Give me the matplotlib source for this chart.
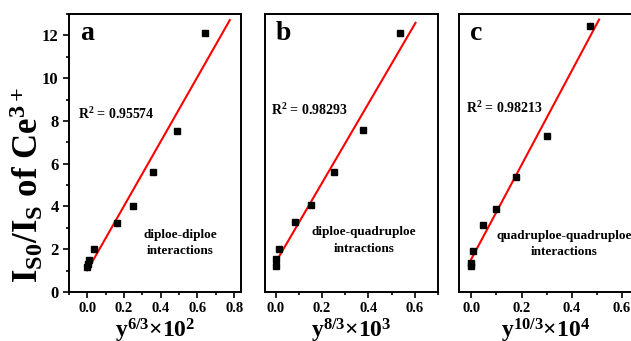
import matplotlib
matplotlib.use('Agg')
import matplotlib.pyplot as plt
import numpy as np
from matplotlib.ticker import MultipleLocator

plt.rcParams['font.family'] = ['Liberation Serif', 'DejaVu Serif']
plt.rcParams['font.weight'] = 'bold'
plt.rcParams['axes.labelweight'] = 'bold'
plt.rcParams['mathtext.fontset'] = 'custom'
plt.rcParams['mathtext.rm'] = 'Liberation Serif:bold'
plt.rcParams['mathtext.it'] = 'Liberation Serif:bold'
plt.rcParams['mathtext.bf'] = 'Liberation Serif:bold'

# quenching ratio I_S0/I_S versus concentration terms
x_a = [0.0, 0.003, 0.01, 0.036, 0.16, 0.25, 0.36, 0.49, 0.64]
y_a = [1.18, 1.3, 1.49, 2.02, 3.25, 4.02, 5.6, 7.55, 12.1]
x_b = [0.0, 0.0, 0.013, 0.085, 0.153, 0.25, 0.376, 0.537]
y_b = [1.21, 1.52, 2.02, 3.27, 4.05, 5.6, 7.59, 12.1]
x_c = [0.0, 0.0, 0.005, 0.048, 0.099, 0.18, 0.303, 0.471]
y_c = [1.2, 1.37, 1.93, 3.14, 3.88, 5.4, 7.29, 12.44]

letters = ['a', 'b', 'c']
r2_labels = ['R$^2$ = 0.95574', 'R$^2$ = 0.98293', 'R$^2$ = 0.98213']
mech_labels = ['diploe-diploe\ninteractions',
               'diploe-quadruploe\nintractions',
               'quadruploe-quadruploe\ninteractions']
xlabels = [r'y$^{6/3}$×10$^2$', r'y$^{8/3}$×10$^3$', r'y$^{10/3}$×10$^4$']
xlims = [(-0.1, 0.837), (-0.046, 0.70), (-0.049, 0.64)]
xticks = [[0, 0.2, 0.4, 0.6, 0.8], [0, 0.2, 0.4, 0.6], [0, 0.2, 0.4, 0.6]]
fit_ends = [0.776, 0.603, 0.509]
lefts = [69, 265, 459]
widths = [172, 173, 173]
r2_pos = [(0.052, 0.64), (0.033, 0.656), (0.039, 0.66)]
mech_pos = [(0.645, 0.176), (0.572, 0.185), (0.61, 0.172)]

xs = [x_a, x_b, x_c]
ys = [y_a, y_b, y_c]

W, H = 631, 341
fig = plt.figure(figsize=(W / 100, H / 100), dpi=100)

for i in range(3):
    ax = fig.add_axes([lefts[i] / W, (H - 292) / H, widths[i] / W, 278 / H])
    x = np.array(xs[i])
    y = np.array(ys[i])
    ax.plot(x, y, 's', color='black', markersize=4.3, zorder=3)
    k, b = np.polyfit(x, y, 1)
    xf = np.array([0.0, fit_ends[i]])
    ax.plot(xf, k * xf + b, color='red', lw=1.5, zorder=2)

    ax.set_xlim(*xlims[i])
    ax.set_ylim(0, 13)
    ax.xaxis.set_minor_locator(MultipleLocator(0.1))
    ax.yaxis.set_major_locator(MultipleLocator(2))
    ax.yaxis.set_minor_locator(MultipleLocator(1))
    ax.tick_params(which='both', direction='out', width=1.2,
                   top=False, right=False)
    ax.tick_params(axis='x', labelsize=10.5)
    ax.tick_params(axis='y', labelsize=12)
    ax.tick_params(which='major', length=4)
    ax.tick_params(which='minor', length=2.5)
    for s in ax.spines.values():
        s.set_linewidth(1.4)
    ax.set_xticks(xticks[i])
    ax.set_xticklabels(['%.1f' % v for v in xticks[i]])
    if i > 0:
        ax.tick_params(axis='y', which='both', left=False, labelleft=False)

    ax.set_xlabel(xlabels[i], fontsize=17, labelpad=1)
    ax.text(0.064, 0.93, letters[i], transform=ax.transAxes, fontsize=20,
            fontweight='bold', va='center', ha='left')
    ax.text(*r2_pos[i], r2_labels[i], transform=ax.transAxes, fontsize=10,
            va='center', ha='left')
    ax.text(*mech_pos[i], mech_labels[i], transform=ax.transAxes, fontsize=9.5,
            va='center', ha='center', linespacing=1.5)

    if i == 0:
        ax.set_ylabel(r'I$_{S0}$/I$_S$ of Ce$^{3+}$', fontsize=25)
        ax.yaxis.label.set_va('center')
        ax.yaxis.set_label_coords(-0.245, 0.385)

fig.savefig('out.png', dpi=100)
